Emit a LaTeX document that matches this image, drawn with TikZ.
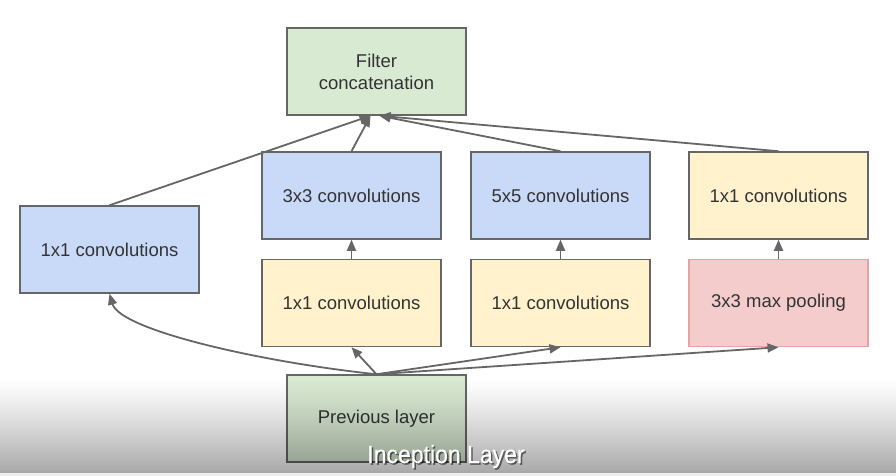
\documentclass[tikz,border=0pt]{standalone}
\usepackage{fontspec}
\setmainfont{Liberation Sans}
\newfontfamily\capfont[FakeStretch=0.92,FakeBold=0.3]{Liberation Sans}
\usetikzlibrary{arrows.meta}

\definecolor{boxline}{HTML}{666666}
\definecolor{arrowline}{HTML}{666666}
\definecolor{labeltext}{HTML}{333333}
\definecolor{bluefill}{HTML}{C9DAF8}
\definecolor{yellowfill}{HTML}{FFF2CC}
\definecolor{greenfill}{HTML}{D9EAD3}
\definecolor{pinkfill}{HTML}{F4CCCC}
\definecolor{pinkline}{HTML}{E6A3A3}
\definecolor{stripgray}{HTML}{EDEDED}

\tikzset{
  layerbox/.style={draw=boxline, line width=1.5pt, minimum width=179pt,
    minimum height=87pt, inner sep=0pt, align=center, text=labeltext,
    font=\fontsize{18.5}{22}\selectfont},
  bluebox/.style={layerbox, fill=bluefill},
  yellowbox/.style={layerbox, fill=yellowfill},
  greenbox/.style={layerbox, fill=greenfill},
  pinkbox/.style={layerbox, fill=pinkfill, draw=pinkline},
  flow/.style={draw=arrowline, line width=1.8pt,
    -{Triangle[length=11pt,width=9pt]}},
}

\begin{document}
\begin{tikzpicture}[x=1pt, y=-1pt]
  \useasboundingbox (0,0) rectangle (896,476);
  \fill[white] (0,0) rectangle (896,476);

  % concatenation at the top
  \node[greenbox] (filt) at (376.5,71.5) {Filter\\concatenation};

  % four parallel branches
  \node[bluebox]   (c1)   at (109.5,249.5) {1x1 convolutions};
  \node[bluebox]   (c3)   at (351.5,195.5) {3x3 convolutions};
  \node[bluebox]   (c5)   at (560.5,195.5) {5x5 convolutions};
  \node[yellowbox] (cp)   at (778.5,195.5) {1x1 convolutions};
  \node[yellowbox] (r3)   at (351.5,303)   {1x1 convolutions};
  \node[yellowbox] (r5)   at (560.5,303)   {1x1 convolutions};
  \node[pinkbox]   (pool) at (778.5,303)   {3x3 max pooling};

  % input
  \node[greenbox] (prev) at (376.5,418.5) {Previous layer};

  % branch outputs into the concatenation
  \draw[flow] (c1.north) -- ([xshift=-6pt]filt.south);
  \draw[flow] (c3.north) -- ([xshift=-6pt]filt.south);
  \draw[flow] (c5.north) -- ([xshift=3pt]filt.south);
  \draw[flow] (cp.north) -- ([xshift=3pt]filt.south);

  % inside the branches
  \draw[flow] (r3.north) -- (c3.south);
  \draw[flow] (r5.north) -- (c5.south);
  \draw[flow] (pool.north) -- (cp.south);

  % input fanned out to every branch
  \draw[flow] (prev.north) .. controls (260,362) and (120,330) .. (c1.south);
  \draw[flow] (prev.north) -- (r3.south);
  \draw[flow] (prev.north) -- (r5.south);
  \draw[flow] (prev.north) -- (pool.south);

  % darkening band along the bottom edge, built from 1pt strips
  \foreach \i in {0,...,94} {
    \fill[black, opacity={0.34*(\i/94)^1.2}] (0,{378+\i}) rectangle (896,{379+\i});
  }
  \fill[stripgray] (0,473) rectangle (896,476);

  % caption
  \node[text=black, opacity=0.5, font=\capfont\fontsize{25}{28}\selectfont,
        anchor=base] (capshadow) at (447.5,464.5) {Inception Layer};
  \node[text=white, font=\capfont\fontsize{25}{28}\selectfont,
        anchor=base] (cap) at (446,463) {Inception Layer};
\end{tikzpicture}
\end{document}
